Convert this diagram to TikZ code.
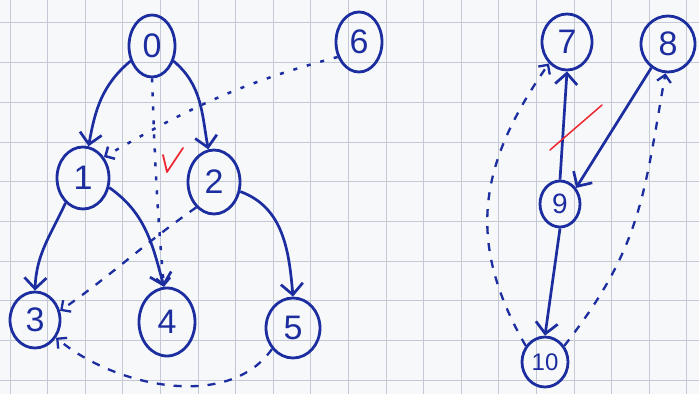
\documentclass[tikz,border=0pt]{standalone}
\usepackage{fontspec}
\setmainfont{Liberation Sans}
\usetikzlibrary{shapes.geometric,arrows.meta}
\definecolor{ink}{RGB}{28,45,160}
\definecolor{paper}{RGB}{247,248,250}
\definecolor{gridline}{RGB}{196,201,213}
\definecolor{redink}{RGB}{236,40,50}
\tikzset{
  vertex/.style={ellipse, draw=ink, line width=2.8pt, inner sep=0pt, text=ink,
    font=\fontsize{34}{34}\selectfont},
  treeedge/.style={draw=ink, line width=2.7pt,
    -{Straight Barb[length=11pt,width=22pt]}},
  backedge/.style={draw=ink, line width=2.3pt, dash pattern=on 8pt off 9pt,
    -{Straight Barb[length=7pt,width=14pt]}},
  dotedge/.style={draw=ink, line width=2.5pt, dash pattern=on 4pt off 10pt,
    -{Straight Barb[length=7pt,width=14pt]}},
  checkmark/.style={draw=redink, line width=1.8pt, line cap=round, line join=round},
}
\begin{document}
\begin{tikzpicture}[x=1pt,y=1pt]
  % squared paper
  \fill[paper] (0,0) rectangle (699,394);
  \useasboundingbox (0,0) rectangle (699,394);
  \foreach \k in {0,...,18}
    \draw[gridline, line width=1pt] ({10+37.6*\k},0) -- ({10+37.6*\k},394);
  \foreach \k in {0,...,9}
    \draw[gridline, line width=1pt] (0,{371-39.7*\k}) -- (699,{371-39.7*\k});

  % left graph
  \node[vertex, minimum width=46pt, minimum height=62pt] (n0) at (152,348) {0};
  \node[vertex, minimum width=46pt, minimum height=60pt] (n6) at (359,352) {6};
  \node[vertex, minimum width=52pt, minimum height=62pt] (n1) at (83,216) {1};
  \node[vertex, minimum width=52pt, minimum height=64pt] (n2) at (214,212) {2};
  \node[vertex, minimum width=50pt, minimum height=56pt] (n3) at (35,74) {3};
  \node[vertex, minimum width=56pt, minimum height=68pt] (n4) at (167,72) {4};
  \node[vertex, minimum width=54pt, minimum height=60pt] (n5) at (293,66) {5};

  % right graph
  \node[vertex, minimum width=50pt, minimum height=56pt] (n7) at (567,352) {7};
  \node[vertex, minimum width=54pt, minimum height=56pt] (n8) at (668,350) {8};
  \node[vertex, minimum width=40pt, minimum height=46pt,
        font=\fontsize{28}{28}\selectfont] (n9) at (560,190) {9};
  \node[vertex, minimum width=46pt, minimum height=50pt,
        font=\fontsize{24}{24}\selectfont] (n10) at (545,32) {10};

  % tree edges
  \draw[treeedge] (n0.215) to[out=220, in=80] (n1.80);
  \draw[treeedge] (n0.-35) to[out=-40, in=100] (n2.100);
  \draw[treeedge] (n1.235) to[out=245, in=88] (n3.north);
  \draw[treeedge] (n1.-20) to[out=-35, in=105] (n4.95);
  \draw[treeedge] (n2.-20) to[out=-20, in=95] (n5.north);
  \draw[treeedge] (n9.north) -- (n7.south);
  \draw[treeedge] (n8.235) -- (n9.45);
  \draw[treeedge] (n9.south) -- (n10.north);

  % non-tree edges
  \draw[dotedge] (n6.215) to[out=195, in=30] (n1.45);
  \draw[dotedge] (n0.south) to[out=-88, in=95] (n4.95);
  \draw[backedge] (n2.235) to[out=215, in=35] (n3.20);
  \draw[backedge] (n5.225) to[out=235, in=-40, looseness=0.9] (n3.-40);
  \draw[backedge] (n10.140) to[out=120, in=235, looseness=1.1] (n7.230);
  \draw[backedge] (n10.40) to[out=52, in=-100, looseness=1.1] (n8.-95);

  % red marks
  \draw[checkmark] (163,239) -- (167,222) -- (183,246);
  \draw[checkmark, line width=1.5pt] (550,244) -- (602,289);
\end{tikzpicture}
\end{document}
